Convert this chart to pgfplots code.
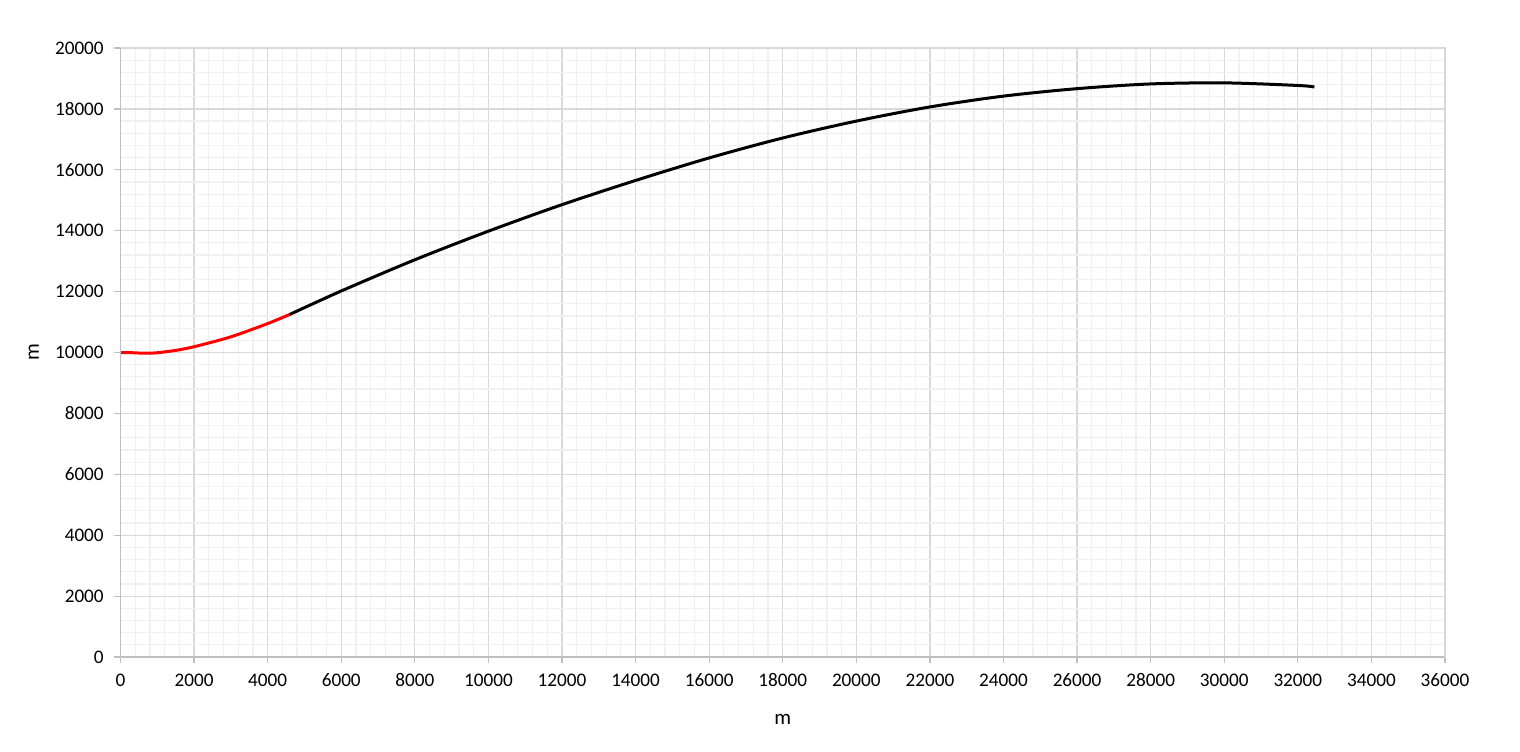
\documentclass[border=0pt]{standalone}
\usepackage{pgfplots}
\pgfplotsset{compat=1.18}
\usepackage{fontspec}
\setmainfont{Carlito}
\definecolor{axgray}{HTML}{BFBFBF}
\definecolor{majgrid}{HTML}{D9D9D9}
\definecolor{mingrid}{HTML}{F0F0F0}
\begin{document}
\fontsize{9.6pt}{11pt}\selectfont
\begin{tikzpicture}
\begin{axis}[
  name=ax,
  scale only axis,
  width=662.25pt, height=304.5pt,
  xmin=0, xmax=36000, ymin=0, ymax=20000,
  xtick distance=2000, ytick distance=2000,
  minor x tick num=4, minor y tick num=4,
  grid=both,
  major grid style={majgrid, line width=0.6pt},
  minor grid style={mingrid, line width=0.6pt},
  axis line style={majgrid, line width=0.6pt},
  tick style={axgray, line width=0.6pt},
  major tick length=3pt,
  minor tick length=0pt,
  tick align=outside,
  xtick pos=bottom, ytick pos=left,
  scaled ticks=false,
  /pgf/number format/.cd, 1000 sep={}, assume math mode=true,
  /pgfplots/.cd,
  ticklabel style={font=\fontsize{9.6pt}{11pt}\selectfont, text=black},
  xticklabel style={yshift=-2pt},
  yticklabel style={xshift=-2pt},
  xlabel={m}, ylabel={m},
  label style={font=\fontsize{10.5pt}{12pt}\selectfont},
  xlabel style={yshift=-7pt},
  ylabel style={yshift=1.5pt},
]
\addplot[red, line width=1.5pt, smooth] coordinates {
(0,10000) (300,9994) (650,9977) (1000,9992) (1500,10070) (2000,10190)
(3000,10515) (4000,10950) (4600,11250)
};
\addplot[black, line width=1.5pt, smooth] coordinates {
(4600,11250) (6000,12020) (8000,13045) (10000,13985) (12000,14855)
(14000,15650) (16000,16390) (18000,17045) (20000,17600) (22000,18065)
(24000,18420) (26000,18665) (28000,18820) (30000,18855) (32000,18770)
(32450,18720)
};
\end{axis}
\draw[axgray, line width=0.6pt] (ax.south west) -- (ax.north west);
\draw[axgray, line width=0.6pt] (ax.south west) -- (ax.south east);
\pgfresetboundingbox
\path[use as bounding box] ([xshift=-60.25pt,yshift=-47pt]ax.south west) rectangle ([xshift=37.5pt,yshift=24pt]ax.north east);
\end{tikzpicture}
\end{document}
